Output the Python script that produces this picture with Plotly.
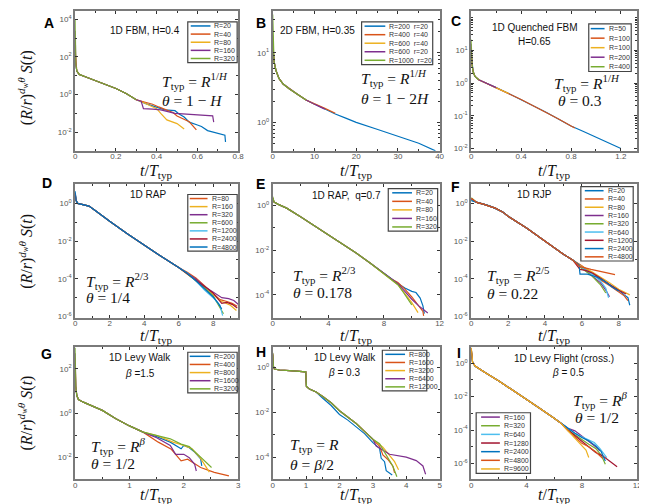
import numpy as np
import plotly.graph_objects as go

W, H = 647, 504
BLUE = '#0072BD'; ORANGE = '#D95319'; YELLOW = '#EDB120'; PURPLE = '#7E2F8E'
GREEN = '#77AC30'; LBLUE = '#4DBEEE'; DRED = '#A2142F'
SANS = "Liberation Sans"; SERIF = "Liberation Serif"

# ======================= DATA (t/T_typ, log10 of scaled S(t)) =======================
# ---- A: 1D FBM, H=0.4
A_names = ["R=20", "R=40", "R=80", "R=160", "R=320"]
A_colors = [BLUE, ORANGE, YELLOW, PURPLE, GREEN]
A_trunk_t = [0.003, 0.008, 0.02, 0.05, 0.1, 0.15, 0.2, 0.25, 0.3]
A_trunk_logS = [1.6, 1.25, 1.07, 0.95, 0.75, 0.55, 0.32, 0.05, -0.28]
A_head_t = [[0], [0], [0], [0], [0]]
A_head_logS = [[1.8], [2.3], [2.8], [3.4], [4.0]]
A_cut = [0.3, 0.3, 0.3, 0.3, 0.3]
A_tail_t = [[0.35, 0.40, 0.44, 0.49, 0.51, 0.535, 0.56, 0.60, 0.62, 0.65, 0.70, 0.735, 0.738],
            [0.34, 0.38, 0.41, 0.44, 0.48, 0.50, 0.53, 0.56, 0.595],
            [0.34, 0.37, 0.40, 0.42, 0.45, 0.50, 0.535],
            [0.324, 0.335, 0.38, 0.42, 0.49, 0.55, 0.62, 0.675, 0.68],
            []]
A_tail_logS = [[-0.5, -0.68, -0.82, -0.86, -1.04, -1.2, -1.47, -1.62, -1.7, -1.92, -2.05, -2.17, -2.53],
               [-0.4, -0.52, -0.66, -0.8, -0.96, -1.14, -1.3, -1.45, -1.88],
               [-0.45, -0.62, -0.75, -1.0, -1.35, -1.55, -1.84],
               [-0.36, -0.75, -0.78, -0.82, -1.0, -1.04, -1.1, -1.14, -1.47],
               []]

# ---- B: 2D FBM, H=0.35
B_names = ["R=200  r=20", "R=400  r=40", "R=600  r=40", "R=600  r=20", "R=1000  r=20"]
B_colors = [BLUE, ORANGE, YELLOW, PURPLE, GREEN]
B_trunk_t = [0.15, 0.4, 0.8, 1.5, 2.5, 4, 6, 8, 10, 12.5, 15, 17.5, 20, 25, 30, 35, 39]
B_trunk_logS = [0.95, 0.85, 0.74, 0.63, 0.55, 0.48, 0.40, 0.32, 0.26, 0.19, 0.12, 0.06, 0.0, -0.1, -0.2, -0.3, -0.41]
B_head_t = [[0], [0], [0], [0], [0, 0.1, 0.3]]
B_head_logS = [[1.1], [1.15], [1.2], [1.25], [1.55, 1.15, 0.9]]
B_cut = [39, 8, 10, 12.5, 8]
B_tail_t = [[], [10, 12.5, 15], [], [], []]
B_tail_logS = [[], [0.27, 0.2, 0.13], [], [], []]

# ---- C: 1D Quenched FBM, H=0.65
C_names = ["R=50", "R=100", "R=100", "R=200", "R=400"]
C_colors = [BLUE, ORANGE, YELLOW, PURPLE, GREEN]
C_trunk_t = [0.005, 0.015, 0.03, 0.06, 0.1, 0.15, 0.2, 0.3, 0.4, 0.5, 0.6, 0.7, 0.8, 0.9, 1.0, 1.1, 1.2]
C_trunk_logS = [0.6, 0.35, 0.2, 0.1, 0.03, -0.05, -0.14, -0.32, -0.5, -0.7, -0.89, -1.1, -1.31, -1.48, -1.66, -1.83, -2.0]
C_head_t = [[0], [0], [0], [0], [0]]
C_head_logS = [[0.9], [1.0], [1.1], [1.2], [1.33]]
C_cut = [1.2, 0.8, 0.3, 0.2, 0.06]
C_tail_t = [[], [0.83], [], [], []]
C_tail_logS = [[], [-1.37], [], [], []]

# ---- D: 1D RAP
D_names = ["R=80", "R=160", "R=320", "R=600", "R=1200", "R=2400", "R=4800"]
D_colors = [ORANGE, YELLOW, PURPLE, GREEN, LBLUE, DRED, BLUE]
D_trunk_t = [0.05, 0.15, 0.4, 0.8, 1.2, 1.6, 2, 3, 4, 5, 6]
D_trunk_logS = [0.15, 0.0, -0.06, -0.14, -0.4, -0.68, -0.95, -1.6, -2.23, -2.82, -3.4]
D_head_t = [[0]] * 7
D_head_logS = [[0.45], [0.5], [0.55], [0.5], [0.6], [0.55], [0.65]]
D_cut = [6] * 7
D_tail_t = [[6.5, 7.0, 7.5, 8.0, 8.4, 8.8, 9.1, 9.4],
            [6.5, 7.0, 7.5, 8.0, 8.5, 9.0, 9.35],
            [6.5, 7.0, 7.5, 8.0, 8.5, 8.9, 9.2, 9.45],
            [6.5, 7.0, 7.5, 8.0, 8.3, 8.6],
            [6.5, 7.0, 7.5, 8.0, 8.4, 8.55],
            [6.5, 7.0, 7.5, 8.0, 8.5, 8.8, 9.1, 9.4],
            [6.5, 7.0, 7.5, 8.0, 8.3, 8.5]]
D_tail_logS = [[-3.65, -3.95, -4.35, -4.8, -5.1, -5.2, -5.3, -5.45],
               [-3.72, -4.1, -4.5, -4.85, -5.2, -5.4, -5.68],
               [-3.7, -4.0, -4.4, -4.7, -5.0, -5.05, -5.15, -5.35],
               [-3.75, -4.1, -4.45, -4.9, -5.4, -5.85],
               [-3.7, -4.1, -4.6, -5.0, -5.4, -5.95],
               [-3.72, -4.05, -4.4, -4.75, -5.3, -5.25, -5.35, -5.55],
               [-3.7, -4.1, -4.55, -4.95, -5.3, -5.6]]

# ---- E: 1D RAP, q=0.7
E_names = ["R=20", "R=40", "R=80", "R=160", "R=320"]
E_colors = [BLUE, ORANGE, YELLOW, PURPLE, GREEN]
E_trunk_t = [0.1, 0.4, 1, 2, 3, 4, 5, 6, 7, 8, 8.5]
E_trunk_logS = [0.15, 0.05, -0.12, -0.5, -0.9, -1.3, -1.72, -2.13, -2.58, -3.05, -3.28]
E_head_t = [[0]] * 5
E_head_logS = [[0.3], [0.35], [0.28], [0.32], [0.4]]
E_cut = [8.5] * 5
E_tail_t = [[9.0, 9.5, 10.0, 10.3, 10.6, 10.8, 10.9],
            [9.0, 9.5, 10.0, 10.5, 10.8, 10.85],
            [9.0, 9.5, 10.0, 10.45],
            [9.0, 9.5, 10.0, 10.5, 11.15],
            [9.0, 9.4, 9.7, 10.0]]
E_tail_logS = [[-3.5, -3.7, -3.85, -3.9, -4.15, -4.5, -4.85],
               [-3.45, -3.75, -4.1, -4.5, -4.75, -4.95],
               [-3.55, -3.95, -4.35, -4.8],
               [-3.5, -3.85, -4.2, -4.5, -4.82],
               [-3.55, -3.9, -4.2, -4.45]]

# ---- F: 1D RJP
F_names = ["R=20", "R=40", "R=80", "R=160", "R=320", "R=640", "R=1200", "R=2400", "R=4800"]
F_colors = [BLUE, ORANGE, YELLOW, PURPLE, GREEN, LBLUE, DRED, BLUE, ORANGE]
F_trunk_t = [0.3, 0.7, 1.0, 1.3, 1.7, 2, 3, 4, 5, 5.5]
F_trunk_logS = [0.05, -0.05, -0.13, -0.25, -0.45, -0.68, -1.3, -2.0, -2.7, -3.0]
F_head_t = [[0]] * 9
F_head_logS = [[0.2], [0.25], [0.18], [0.22], [0.3], [0.2], [0.25], [0.15], [0.28]]
F_cut = [5.5] * 9
F_tail_t = [[6, 6.5, 7, 7.5, 8, 8.3, 8.5, 8.6],
            [6, 6.5, 7, 7.5, 8, 8.3, 8.5],
            [6, 6.5, 7, 7.5, 8, 8.3, 8.6],
            [6, 6.5, 7, 7.3, 7.5],
            [6, 6.5, 7, 7.3],
            [6, 6.5, 7, 7.3, 7.45],
            [5.9, 6.2, 6.6, 7, 7.5, 8, 8.4],
            [5.85, 5.9, 6.3, 6.8, 7.2, 7.6, 8],
            [5.9, 6.5, 7, 7.5, 7.8]]
F_tail_logS = [[-3.35, -3.7, -4.0, -4.3, -4.6, -4.85, -5.0, -5.4],
               [-3.3, -3.65, -4.05, -4.35, -4.7, -4.9, -5.15],
               [-3.35, -3.6, -3.9, -4.2, -4.55, -4.7, -4.85],
               [-3.4, -3.75, -4.2, -4.6, -4.95],
               [-3.45, -3.8, -4.3, -4.75],
               [-3.4, -3.7, -4.1, -4.5, -5.0],
               [-3.5, -3.55, -3.7, -3.95, -4.3, -4.6, -4.8],
               [-3.25, -3.75, -3.75, -3.9, -4.1, -4.4, -4.65],
               [-3.35, -3.5, -3.6, -3.7, -3.78]]

# ---- G: 1D Levy Walk, beta=1.5
G_names = ["R=200", "R=400", "R=800", "R=1600", "R=3200"]
G_colors = [BLUE, ORANGE, YELLOW, PURPLE, GREEN]
G_trunk_t = [0.01, 0.03, 0.06, 0.15, 0.3, 0.5, 0.75, 1.0, 1.25]
G_trunk_logS = [1.2, 0.8, 0.62, 0.5, 0.35, 0.13, -0.25, -0.57, -0.85]
G_head_t = [[0]] * 5
G_head_logS = [[2.0], [2.3], [2.5], [2.7], [2.95]]
G_cut = [1.25] * 5
G_tail_t = [[1.5, 1.75, 1.95, 2.0, 2.1, 2.2, 2.31, 2.33],
            [1.53, 1.77, 1.95, 2.07, 2.31, 2.56, 2.83],
            [1.5, 1.8, 2.0, 2.15, 2.3, 2.47],
            [1.5, 1.75, 1.85, 2.0, 2.1, 2.2, 2.23],
            [1.5, 1.75, 1.95, 2.1, 2.3, 2.51]]
G_tail_logS = [[-1.05, -1.3, -1.6, -1.45, -1.55, -1.75, -2.05, -2.37],
               [-1.3, -1.62, -2.14, -2.07, -2.44, -2.66, -2.82],
               [-1.0, -1.3, -1.45, -1.6, -2.0, -2.65],
               [-1.1, -1.45, -1.85, -1.85, -2.0, -2.3, -2.6],
               [-1.0, -1.15, -1.39, -1.5, -1.95, -2.44]]

# ---- H: 1D Levy Walk, beta=0.3
H_names = ["R=800", "R=1600", "R=3200", "R=6400", "R=12000"]
H_colors = [BLUE, ORANGE, YELLOW, PURPLE, GREEN]
H_trunk_t = [0.02, 0.05, 0.2, 0.5, 0.8, 0.99, 1.0, 1.01, 1.1, 1.3, 1.5, 1.75, 2.0, 2.25, 2.5, 2.75, 3.0]
H_trunk_logS = [0.05, -0.08, -0.12, -0.15, -0.17, -0.2, -0.6, -0.85, -0.97, -1.1, -1.3, -1.58, -1.93, -2.2, -2.5, -2.85, -3.2]
H_head_t = [[0]] * 5
H_head_logS = [[0.55], [0.6], [0.58], [0.62], [0.65]]
H_cut = [1.3, 3.0, 3.0, 3.0, 3.0]
H_tail_t = [[1.5, 1.75, 2.0, 2.25, 2.5, 2.75, 3.0, 3.2, 3.25, 3.35, 3.4, 3.58],
            [3.2, 3.3, 3.45, 3.6, 3.65],
            [3.3, 3.5, 3.65, 3.77],
            [3.1, 3.5, 4.0, 4.3, 4.5, 4.58],
            [3.2, 3.4, 3.6, 3.72]]
H_tail_logS = [[-1.38, -1.7, -2.1, -2.35, -2.65, -2.95, -3.35, -3.6, -4.05, -4.2, -4.6, -4.79],
               [-3.5, -3.9, -4.1, -4.4, -4.7],
               [-3.55, -3.9, -4.2, -4.56],
               [-3.5, -3.87, -4.0, -4.15, -4.39, -4.76],
               [-3.4, -3.9, -4.4, -4.87]]

# ---- I: 1D Levy Flight (cross.), beta=0.5
I_names = ["R=160", "R=320", "R=640", "R=1280", "R=2400", "R=4800", "R=9600"]
I_colors = [PURPLE, GREEN, LBLUE, DRED, BLUE, ORANGE, YELLOW]
I_trunk_t = [0.03, 0.1, 0.3, 0.6, 1.0, 2, 3, 4, 5, 6, 6.5]
I_trunk_logS = [0.4, 0.05, -0.18, -0.36, -0.55, -1.06, -1.6, -2.15, -2.72, -3.3, -3.6]
I_head_t = [[0]] * 7
I_head_logS = [[0.7], [0.75], [0.8], [0.85], [0.9], [0.92], [0.95]]
I_cut = [6.5] * 7
I_tail_t = [[7, 7.5, 8, 8.5, 9, 9.3],
            [7, 7.5, 8, 8.5, 9, 9.4, 9.7],
            [7, 7.5, 8, 8.5, 8.9, 9.3, 9.8],
            [7, 7.5, 8, 8.5, 9, 9.5, 10, 10.55],
            [7, 7.5, 8, 8.5, 9, 9.4, 9.7],
            [7, 7.5, 8, 8.5, 9, 9.5],
            [7, 7.5, 8, 8.3, 8.5]]
I_tail_logS = [[-3.9, -4.05, -4.35, -4.7, -5.0, -5.25],
               [-4.0, -4.3, -4.55, -4.85, -5.1, -5.5, -6.05],
               [-3.9, -4.2, -4.4, -4.6, -4.75, -5.1, -5.65],
               [-4.0, -4.35, -4.7, -5.0, -5.35, -5.55, -5.85, -6.2],
               [-3.95, -4.2, -4.45, -4.65, -4.95, -5.3, -5.85],
               [-4.05, -4.4, -4.8, -5.0, -5.3, -5.7],
               [-4.05, -4.5, -4.9, -5.2, -5.65]]

DATA = {
    'A': (A_names, A_colors, A_trunk_t, A_trunk_logS, A_head_t, A_head_logS, A_cut, A_tail_t, A_tail_logS),
    'B': (B_names, B_colors, B_trunk_t, B_trunk_logS, B_head_t, B_head_logS, B_cut, B_tail_t, B_tail_logS),
    'C': (C_names, C_colors, C_trunk_t, C_trunk_logS, C_head_t, C_head_logS, C_cut, C_tail_t, C_tail_logS),
    'D': (D_names, D_colors, D_trunk_t, D_trunk_logS, D_head_t, D_head_logS, D_cut, D_tail_t, D_tail_logS),
    'E': (E_names, E_colors, E_trunk_t, E_trunk_logS, E_head_t, E_head_logS, E_cut, E_tail_t, E_tail_logS),
    'F': (F_names, F_colors, F_trunk_t, F_trunk_logS, F_head_t, F_head_logS, F_cut, F_tail_t, F_tail_logS),
    'G': (G_names, G_colors, G_trunk_t, G_trunk_logS, G_head_t, G_head_logS, G_cut, G_tail_t, G_tail_logS),
    'H': (H_names, H_colors, H_trunk_t, H_trunk_logS, H_head_t, H_head_logS, H_cut, H_tail_t, H_tail_logS),
    'I': (I_names, I_colors, I_trunk_t, I_trunk_logS, I_head_t, I_head_logS, I_cut, I_tail_t, I_tail_logS),
}

# ======================= LAYOUT SPECS =======================
COLS = [(66, 231), (266, 435), (467, 635)]
ROWS = [(3, 144), (177, 312), (342, 475)]
TT = "<i>T</i><sub>typ</sub>"
FS = 15.5  # formula font size
# leg = (left, top, right, bottom, sample_start, sample_end, text_start) in px offsets from left
PANELS = [
    dict(k='A', r=0, c=0, xr=[0, 0.8], xd=0.2, yr=[-3.0, 4.45], yexp=[-2, 0, 2, 4], ymin=1,
         letter=(39, 15), leg=(180, 14, 230, 55, 3, 23, 25),
         texts=[("1D FBM, H=0.4", 137, 23, 'center', 10, SANS),
                (TT + " = <i>R</i><sup>1/<i>H</i></sup>", 152, 74, 'left', FS, SERIF),
                ("<i>θ</i> = 1 − <i>H</i>", 152, 93, 'left', FS, SERIF)]),
    dict(k='B', r=0, c=1, xr=[0, 40], xd=10, yr=[-0.41, 1.6], yexp=[0, 1], ymin='D1',
         letter=(254, 15), leg=(356, 14, 428, 57, 3, 24, 26),
         texts=[("2D FBM, H=0.35", 311, 23, 'center', 10, SANS),
                (TT + " = <i>R</i><sup>1/<i>H</i></sup>", 353, 71, 'left', FS, SERIF),
                ("<i>θ</i> = 1 − 2<i>H</i>", 353, 91, 'left', FS, SERIF)]),
    dict(k='C', r=0, c=2, xr=[0, 1.33], xd=0.4, yr=[-2.07, 2.2], yexp=[-2, -1, 0, 1], ymin='D1',
         letter=(452, 13), leg=(586, 16, 629, 64, 2, 16, 18),
         texts=[("1D Quenched FBM", 532, 20, 'center', 10, SANS),
                ("H=0.65", 531, 34, 'center', 10, SANS),
                (TT + " = <i>R</i><sup>1/<i>H</i></sup>", 549, 76, 'left', FS, SERIF),
                ("<i>θ</i> = 0.3", 553, 93, 'left', FS, SERIF)]),
    dict(k='D', r=1, c=0, xr=[0, 9.45], xd=2, yr=[-6.05, 1.05], yexp=[-6, -4, -2, 0], ymin=1,
         letter=(37, 176), leg=(180, 188, 230, 245, 2, 20, 22),
         texts=[("1D RAP", 140, 188, 'center', 10, SANS),
                (TT + " = <i>R</i><sup>2/3</sup>", 75, 275, 'left', FS, SERIF),
                ("<i>θ</i> = 1/4", 75, 292, 'left', FS, SERIF)]),
    dict(k='E', r=1, c=1, xr=[0, 12], xd=4, yr=[-5.02, 0.98], yexp=[-4, -2, 0], ymin=1,
         letter=(254, 177), leg=(383, 182, 433, 225, 4, 24, 26),
         texts=[("1D RAP,&nbsp; q=0.7", 341, 189, 'center', 10, SANS),
                (TT + " = <i>R</i><sup>2/3</sup>", 285, 269, 'left', FS, SERIF),
                ("<i>θ</i> = 0.178", 285, 287, 'left', FS, SERIF)]),
    dict(k='F', r=1, c=2, xr=[0, 9.0], xd=2, yr=[-6.05, 1.05], yexp=[-6, -4, -2, 0], ymin=1,
         letter=(451, 180), leg=(578, 180, 631, 255, 4, 23, 25),
         texts=[("1D RJP", 531, 188, 'center', 10, SANS),
                (TT + " = <i>R</i><sup>2/5</sup>", 481, 269, 'left', FS, SERIF),
                ("<i>θ</i> = 0.22", 481, 288, 'left', FS, SERIF)]),
    dict(k='G', r=2, c=0, xr=[0, 3], xd=1, yr=[-2.97, 2.97], yexp=[-2, 0, 2], ymin=1,
         letter=(37, 349), leg=(180, 347, 230, 388, 2, 23, 25),
         texts=[("1D Levy Walk", 132, 352, 'center', 10, SANS),
                ("<i>β</i> =1.5", 132, 368, 'center', 10, SANS),
                (TT + " = <i>R</i><sup><i>β</i></sup>", 80, 441, 'left', FS, SERIF),
                ("<i>θ</i> = 1/2", 80, 459, 'left', FS, SERIF)]),
    dict(k='H', r=2, c=1, xr=[0, 5], xd=1, yr=[-4.98, 0.89], yexp=[-4, -2, 0], ymin=1,
         letter=(254, 347), leg=(377, 345, 422, 386, 3, 23, 25),
         texts=[("1D Levy Walk", 339, 352, 'center', 10, SANS),
                ("<i>β</i> = 0.3", 338, 367, 'center', 10, SANS),
                (TT + " = <i>R</i>", 281, 441, 'left', FS, SERIF),
                ("<i>θ</i> = <i>β</i>/2", 281, 460, 'left', FS, SERIF)]),
    dict(k='I', r=2, c=2, xr=[0, 12], xd=4, yr=[-6.95, 0.96], yexp=[-6, -4, -2, 0], ymin=1,
         letter=(455, 348), leg=(472, 408, 527, 469, 5, 24, 26),
         texts=[("1D Levy Flight (cross.)", 561, 353, 'center', 10, SANS),
                ("<i>β</i> = 0.5", 565, 367, 'center', 10, SANS),
                (TT + " = <i>R</i><sup><i>β</i></sup>", 568, 395, 'left', FS, SERIF),
                ("<i>θ</i> = 1/2", 570, 413, 'left', FS, SERIF)]),
]
XTITLE_Y = [165, 331, 491]
YLABEL_Y = [80, 245, 408]


def px(x):
    return x / W


def py(y):
    return 1 - y / H


def assemble(trunk_t, trunk_y, head_t, head_y, cut, tail_t, tail_y):
    h_end = head_t[-1]
    mid = [(t, y) for t, y in zip(trunk_t, trunk_y) if h_end < t <= cut]
    ts = list(head_t) + [m[0] for m in mid] + list(tail_t)
    ys = list(head_y) + [m[1] for m in mid] + list(tail_y)
    return ts, ys


fig = go.Figure()
layout = dict(width=W, height=H, margin=dict(l=0, r=0, t=0, b=0),
              paper_bgcolor='white', plot_bgcolor='white', showlegend=False)
shapes, annotations = [], []

for i, p in enumerate(PANELS):
    n = i + 1
    xa = 'xaxis' if n == 1 else f'xaxis{n}'
    ya = 'yaxis' if n == 1 else f'yaxis{n}'
    xref = 'x' if n == 1 else f'x{n}'
    yref = 'y' if n == 1 else f'y{n}'
    c0, c1 = COLS[p['c']]
    r0, r1 = ROWS[p['r']]
    axcommon = dict(showline=True, linecolor='#7a7a7a', linewidth=2, mirror='ticks',
                    ticks='inside', ticklen=3, tickcolor='#333', tickwidth=1,
                    showgrid=False, zeroline=False,
                    tickfont=dict(family=SANS, size=8, color='#555'))
    layout[xa] = dict(axcommon, domain=[px(c0), px(c1)], range=p['xr'], dtick=p['xd'], tick0=0,
                      anchor=yref, ticklabelstandoff=-3,
                      minor=dict(ticks='inside', ticklen=2, dtick=p['xd'] / 2, tickcolor='#333'))
    layout[ya] = dict(axcommon, domain=[py(r1), py(r0)], type='log', range=p['yr'],
                      anchor=xref, tickmode='array',
                      tickvals=[10.0 ** e for e in p['yexp']],
                      ticktext=[f"10<sup>{e}</sup>" for e in p['yexp']],
                      minor=dict(ticks='inside', ticklen=2, dtick=p['ymin'], tickcolor='#333'))

    names, colors, tt, ty, ht, hy, cut, tlt, tly = DATA[p['k']]
    for j in range(len(names)):
        ts, ys = assemble(tt, ty, ht[j], hy[j], cut[j], tlt[j], tly[j])
        fig.add_trace(go.Scatter(x=ts, y=10.0 ** np.array(ys), mode='lines', name=names[j],
                                 line=dict(color=colors[j], width=1.2),
                                 xaxis=xref, yaxis=yref, showlegend=False))

    lx, ly = p['letter']
    annotations.append(dict(text=f"<b>{p['k']}</b>", x=px(lx), y=py(ly), xref='paper', yref='paper',
                            showarrow=False, xanchor='center', yanchor='middle',
                            font=dict(family=SANS, size=14, color='black')))
    for (txt, tx, ty_, anc, sz, fam) in p['texts']:
        annotations.append(dict(text=txt, x=px(tx), y=py(ty_), xref='paper', yref='paper',
                                showarrow=False, xanchor=anc, yanchor='middle',
                                font=dict(family=fam, size=sz, color='#111')))
    annotations.append(dict(text="<i>t</i>/" + TT, x=px((c0 + c1) / 2), y=py(XTITLE_Y[p['r']]),
                            xref='paper', yref='paper', showarrow=False,
                            xanchor='center', yanchor='middle',
                            font=dict(family=SERIF, size=16, color='#111')))
    L, T, R, B, s0, s1, tx0 = p['leg']
    shapes.append(dict(type='rect', xref='paper', yref='paper', x0=px(L), x1=px(R), y0=py(B), y1=py(T),
                       fillcolor='white', line=dict(color='#444', width=1.2), layer='above'))
    m = len(names)
    step = (B - T) / m
    for j in range(m):
        yc = T + (j + 0.5) * step
        shapes.append(dict(type='line', xref='paper', yref='paper', x0=px(L + s0), x1=px(L + s1),
                           y0=py(yc), y1=py(yc), line=dict(color=colors[j], width=1.5), layer='above'))
        annotations.append(dict(text=names[j].replace("  ", "&nbsp; "), x=px(L + tx0), y=py(yc),
                                xref='paper', yref='paper', showarrow=False,
                                xanchor='left', yanchor='middle',
                                font=dict(family=SANS, size=7, color='#333')))

for r in range(3):
    annotations.append(dict(
        text="(<i>R</i>/<i>r</i>)<sup><i>d</i><sub>w</sub><i>θ</i></sup> <i>S</i>(<i>t</i>)",
        x=px(16), y=py(YLABEL_Y[r]), xref='paper', yref='paper', showarrow=False,
        textangle=-90, xanchor='center', yanchor='middle',
        font=dict(family=SERIF, size=16, color='#111')))

layout['shapes'] = shapes
layout['annotations'] = annotations
fig.update_layout(**layout)
fig.write_html("out.html")
